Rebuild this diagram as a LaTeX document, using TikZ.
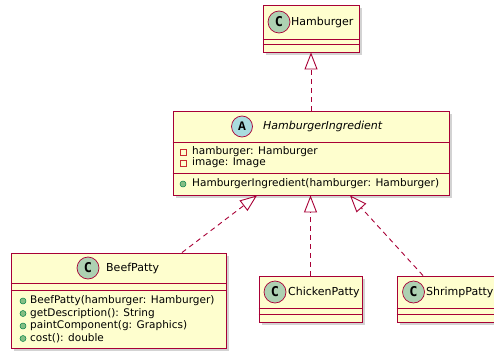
\documentclass[tikz,border=0pt]{standalone}
\usepackage{fontspec}
\setmainfont{DejaVu Sans}
\newfontfamily\spotfont{DejaVu Sans Mono}
\newfontfamily\abstractfont{Liberation Mono}
\usetikzlibrary{arrows.meta,shadows}

\definecolor{umlborder}{HTML}{A80036}
\definecolor{umlfill}{HTML}{FEFECE}
\definecolor{classspot}{HTML}{ADD1B2}
\definecolor{abstractspot}{HTML}{A9DCDF}
\definecolor{privred}{HTML}{C82930}
\definecolor{pubgreen}{HTML}{84BE84}
\definecolor{pubborder}{HTML}{038048}

\tikzset{
  classbox/.style={draw=umlborder, fill=umlfill, line width=0.9pt, inner sep=0pt,
    drop shadow={shadow xshift=3pt, shadow yshift=-3pt, opacity=0.35}},
  sepline/.style={draw=umlborder, line width=0.9pt},
  spotbase/.style={circle, draw=umlborder, line width=0.7pt, minimum size=22pt, inner sep=0pt},
  classmark/.style={spotbase, fill=classspot, font=\spotfont\bfseries\fontsize{13.5}{13.5}\selectfont},
  abstractmark/.style={spotbase, minimum size=21pt, fill=abstractspot, font=\abstractfont\bfseries\fontsize{13}{13}\selectfont},
  title/.style={anchor=west, inner sep=0pt, font=\fontsize{11}{13}\selectfont},
  member/.style={anchor=west, inner sep=0pt, font=\fontsize{10.5}{12}\selectfont},
  private/.style={draw=privred, line width=0.6pt, minimum size=6pt, inner sep=0pt},
  public/.style={circle, draw=pubborder, fill=pubgreen, line width=0.5pt, minimum size=6pt, inner sep=0pt},
  realize/.style={draw=umlborder, line width=0.9pt, dash pattern=on 5pt off 4pt,
    -{Triangle[open, length=17pt, width=13pt]}}
}

\begin{document}
\begin{tikzpicture}[x=1pt, y=-1pt]
  \useasboundingbox (0,0) rectangle (494,350);

  % class boxes
  \node[classbox, minimum width=96pt, minimum height=47pt] (hamburger) at (311,28.5) {};
  \node[classbox, minimum width=276pt, minimum height=84pt] (ingredient) at (311,153) {};
  \node[classbox, minimum width=215pt, minimum height=95pt] (beef) at (118.5,300.5) {};
  \node[classbox, minimum width=103pt, minimum height=46pt] (chicken) at (310.5,299) {};
  \node[classbox, minimum width=100pt, minimum height=46pt] (shrimp) at (447,299) {};

  % compartments
  \draw[sepline] (hamburger.west |- 0,39) -- (hamburger.east |- 0,39);
  \draw[sepline] (hamburger.west |- 0,44) -- (hamburger.east |- 0,44);
  \draw[sepline] (ingredient.west |- 0,142) -- (ingredient.east |- 0,142);
  \draw[sepline] (ingredient.west |- 0,173) -- (ingredient.east |- 0,173);
  \draw[sepline] (beef.west |- 0,283) -- (beef.east |- 0,283);
  \draw[sepline] (beef.west |- 0,290) -- (beef.east |- 0,290);
  \draw[sepline] (chicken.west |- 0,308) -- (chicken.east |- 0,308);
  \draw[sepline] (chicken.west |- 0,314) -- (chicken.east |- 0,314);
  \draw[sepline] (shrimp.west |- 0,308) -- (shrimp.east |- 0,308);
  \draw[sepline] (shrimp.west |- 0,314) -- (shrimp.east |- 0,314);

  % headers
  \node[classmark] (hamburgerC) at (279,22) {C};
  \node[title] (hamburgerT) at (291,22) {Hamburger};
  \node[abstractmark] (ingredientA) at (242,126.5) {A};
  \node[title, font=\fontsize{11}{13}\selectfont\itshape] (ingredientT) at (263,126.5) {HamburgerIngredient};
  \node[classmark] (beefC) at (88,268) {C};
  \node[title] (beefT) at (106,268) {BeefPatty};
  \node[classmark] (chickenC) at (275,292) {C};
  \node[title] (chickenT) at (288,292) {ChickenPatty};
  \node[classmark] (shrimpC) at (413.5,292) {C};
  \node[title] (shrimpT) at (426,292) {ShrimpPatty};

  % members
  \node[private] (f1) at (183,152) {};
  \node[member] (f1t) at (192,152) {hamburger: Hamburger};
  \node[private] (f2) at (183,163) {};
  \node[member] (f2t) at (192,163) {image: Image};
  \node[public] (m1) at (183,184) {};
  \node[member] (m1t) at (192,184) {HamburgerIngredient(hamburger: Hamburger)};

  \node[public] (b1) at (23,301) {};
  \node[member] (b1t) at (30,301) {BeefPatty(hamburger: Hamburger)};
  \node[public] (b2) at (23,313.5) {};
  \node[member] (b2t) at (30,313.5) {getDescription(): String};
  \node[public] (b3) at (23,326) {};
  \node[member] (b3t) at (30,326) {paintComponent(g: Graphics)};
  \node[public] (b4) at (23,338.5) {};
  \node[member] (b4t) at (30,338.5) {cost(): double};

  % realizations
  \draw[realize] (ingredient.north) -- (hamburger.south);
  \draw[realize] ([xshift=63.5pt]beef.north) -- ([xshift=-54pt]ingredient.south);
  \draw[realize] (chicken.north) -- (chicken.north |- ingredient.south);
  \draw[realize] ([xshift=-24pt]shrimp.north) -- ([xshift=39pt]ingredient.south);
\end{tikzpicture}
\end{document}
